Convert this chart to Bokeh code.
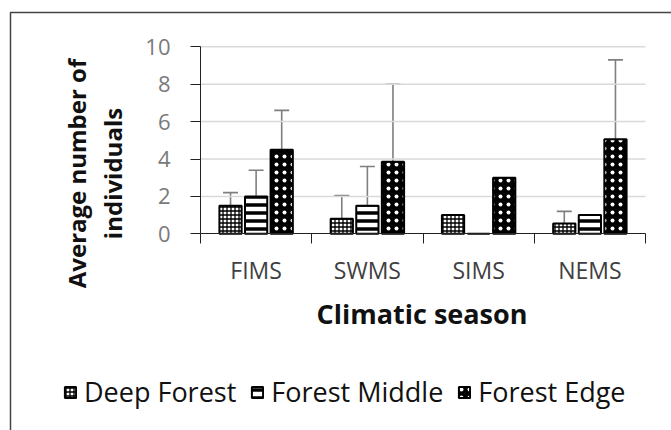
import math
from bokeh.plotting import figure
from bokeh.models import (ColumnDataSource, Range1d, FixedTicker, Whisker, TeeHead,
                          Legend, LegendItem, Label, LinearAxis, BoxAnnotation)
from bokeh.embed import file_html
from bokeh.resources import INLINE

# ---- data ----
seasons = ["FIMS", "SWMS", "SIMS", "NEMS"]
series_names = ["Deep Forest", "Forest Middle", "Forest Edge"]
deep_forest = [1.5, 0.8, 1.0, 0.55]
deep_forest_err = [0.7, 1.25, 0.0, 0.65]
forest_middle = [2.0, 1.5, 0.0, 1.0]
forest_middle_err = [1.4, 2.1, 0.0, 0.0]
forest_edge = [4.5, 3.85, 3.0, 5.05]
forest_edge_err = [2.1, 4.15, 0.0, 4.25]
y_ticks = [0, 2, 4, 6, 8, 10]
x_title = "Climatic season"
y_title_lines = ["Average number of", "individuals"]

FONT = "Open Sans"
W, H = 671, 430
# plot-area placement (pixels from top-left of canvas)
PX0, PX1 = 200.0, 645.0      # x of category 0 and category 4 boundary
PY0, PY10 = 233.3, 46.3      # y of value 0 and value 10
n = len(seasons)
sx = (PX1 - PX0) / n
sy = (PY0 - PY10) / 10.0

p = figure(width=W, height=H, output_backend="svg", toolbar_location=None,
           x_axis_location=None, y_axis_location=None,
           x_range=Range1d(-PX0 / sx, n + (W - PX1) / sx),
           y_range=Range1d(-(H - PY0) / sy, PY0 / sy),
           min_border=0)
p.outline_line_color = None
p.background_fill_color = "white"
p.border_fill_color = "white"
p.grid.visible = False

# horizontal gridlines across the plot area
p.segment(x0=[0] * len(y_ticks[1:]), x1=[n] * len(y_ticks[1:]), y0=y_ticks[1:], y1=y_ticks[1:],
          line_color="#d9d9d9", line_width=1.5)

# y axis
yax = LinearAxis(fixed_location=0, bounds=(y_ticks[0], y_ticks[-1]),
                 ticker=FixedTicker(ticks=y_ticks))
yax.axis_line_color = "#222222"
yax.major_tick_line_color = "#222222"
yax.major_tick_out = 10
yax.major_tick_in = 0
yax.minor_tick_line_color = None
yax.major_label_text_font = FONT
yax.major_label_text_font_size = "22px"
yax.major_label_text_color = "#7a7a7a"
yax.major_label_standoff = 20
p.add_layout(yax, "left")

# x axis (labels at centres, ticks at category boundaries)
centers = [i + 0.5 for i in range(n)]
xax = LinearAxis(fixed_location=0, bounds=(0, n),
                 ticker=FixedTicker(ticks=centers, minor_ticks=list(range(n + 1))))
xax.major_label_overrides = {c: s for c, s in zip(centers, seasons)}
xax.axis_line_color = "#222222"
xax.major_tick_line_color = None
xax.major_tick_out = 0
xax.major_tick_in = 0
xax.minor_tick_line_color = "#222222"
xax.minor_tick_out = 10
xax.minor_tick_in = 0
xax.major_label_text_font = FONT
xax.major_label_text_font_size = "23px"
xax.major_label_text_color = "#404040"
xax.major_label_standoff = 10
p.add_layout(xax, "below")

offsets = [-0.23, 0.0, 0.23]
bar_w = 0.2
styles = [
    dict(fill_color="white", hatch_pattern="+", hatch_color="black", hatch_scale=4, hatch_weight=1.3),
    dict(fill_color="white", hatch_pattern="-", hatch_color="black", hatch_scale=8, hatch_weight=3.5),
    dict(fill_color="black", hatch_pattern="dot", hatch_color="white", hatch_scale=8, hatch_weight=1),
]
vals = [deep_forest, forest_middle, forest_edge]
errs = [deep_forest_err, forest_middle_err, forest_edge_err]

renderers = []
for k in range(3):
    xs = [c + offsets[k] for c in centers]
    src = ColumnDataSource(dict(x=xs, top=vals[k]))
    r = p.vbar(x="x", top="top", width=bar_w, source=src, line_color="black", line_width=2,
               **styles[k])
    renderers.append(r)
    idx = [i for i, e in enumerate(errs[k]) if e > 0]
    esrc = ColumnDataSource(dict(x=[xs[i] for i in idx], lo=[vals[k][i] for i in idx],
                                 up=[vals[k][i] + errs[k][i] for i in idx]))
    w = Whisker(base="x", lower="lo", upper="up", source=esrc, dimension="height",
                line_color="#7f7f7f", line_width=1.6, lower_head=None,
                upper_head=TeeHead(size=15, line_color="#7f7f7f", line_width=1.6))
    p.add_layout(w)

# axis titles (screen units measured from bottom-left of the canvas)
p.add_layout(Label(x=421.5, y=H - 313, x_units="screen", y_units="screen", text=x_title,
                   text_font=FONT, text_font_style="bold", text_font_size="27px",
                   text_align="center", text_baseline="middle", text_color="#111111"))
p.add_layout(Label(x=76, y=H - 173, x_units="screen", y_units="screen", text=y_title_lines[0],
                   angle=math.pi / 2, text_font=FONT, text_font_style="bold", text_font_size="24px",
                   text_align="center", text_baseline="middle", text_color="#111111"))
p.add_layout(Label(x=112, y=H - 173, x_units="screen", y_units="screen", text=y_title_lines[1],
                   angle=math.pi / 2, text_font=FONT, text_font_style="bold", text_font_size="24px",
                   text_align="center", text_baseline="middle", text_color="#111111"))

# legend
legend = Legend(items=[LegendItem(label=nm, renderers=[r]) for nm, r in zip(series_names, renderers)],
                orientation="horizontal", location=(63, 20),
                glyph_width=14, glyph_height=14, label_standoff=7, spacing=14,
                padding=0, margin=0, border_line_color=None, background_fill_alpha=0,
                label_text_font=FONT, label_text_font_size="27px", label_text_color="#111111")
p.add_layout(legend, "center")

# outer frame of the chart (top and left edges visible)
p.add_layout(BoxAnnotation(left=10, right=W + 50, top=H - 12, bottom=-50,
                           left_units="screen", right_units="screen",
                           top_units="screen", bottom_units="screen",
                           fill_alpha=0, line_color="#444444", line_alpha=1.0, line_width=1.5))

open("out.html", "w").write(file_html(p, INLINE))
